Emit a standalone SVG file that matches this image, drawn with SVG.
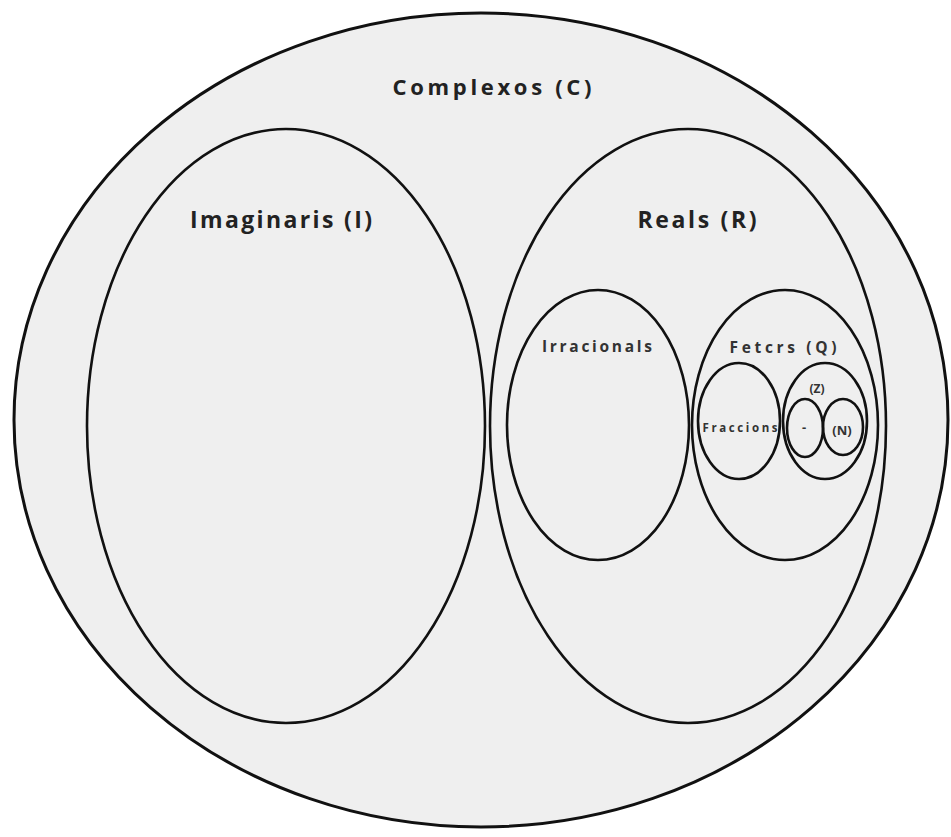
<svg xmlns="http://www.w3.org/2000/svg" width="951" height="837" viewBox="0 0 951 837">
<style>
.set{fill:none;stroke:#111;stroke-width:2.6}
.outer{fill:#efefef;stroke:#111;stroke-width:3}
.lbl{font-family:"Open Sans","DejaVu Sans",sans-serif;font-weight:bold;fill:#222;text-anchor:middle}
.sm{font-family:"Open Sans","DejaVu Sans",sans-serif;font-weight:bold;fill:#333;text-anchor:middle}
</style>
<rect width="951" height="837" fill="#fff"/>
<g id="complexos">
<ellipse class="outer" cx="481" cy="420" rx="467" ry="407"/>
<text class="lbl" x="492" y="95" font-size="22" textLength="199" lengthAdjust="spacing">Complexos (C)</text>
</g>
<g id="imaginaris">
<ellipse class="set" cx="286" cy="426" rx="199" ry="297"/>
<text class="lbl" x="281" y="228" font-size="23" textLength="182" lengthAdjust="spacing">Imaginaris (I)</text>
</g>
<g id="reals">
<ellipse class="set" cx="688" cy="426" rx="198" ry="297"/>
<text class="lbl" x="697" y="228" font-size="23" textLength="119" lengthAdjust="spacing">Reals (R)</text>
</g>
<g id="irracionals">
<ellipse class="set" cx="598" cy="425" rx="91" ry="135"/>
<text class="sm" x="597" y="352" font-size="15.5" textLength="110" lengthAdjust="spacing">Irracionals</text>
</g>
<g id="racionals">
<ellipse class="set" cx="785" cy="425" rx="93" ry="135"/>
<text class="sm" x="783" y="353" font-size="15.5" textLength="107" lengthAdjust="spacing">Fetcrs (Q)</text>
</g>
<g id="fraccions">
<ellipse class="set" cx="739" cy="421" rx="41" ry="58"/>
<text class="sm" x="740" y="432" font-size="11.5" textLength="75" lengthAdjust="spacing">Fraccions</text>
</g>
<g id="enters">
<ellipse class="set" cx="825" cy="421" rx="42" ry="58"/>
<text class="sm" x="817" y="393" font-size="12">(Z)</text>
</g>
<g id="negatius">
<ellipse class="set" cx="805" cy="428" rx="18" ry="29"/>
<text class="sm" x="804" y="432" font-size="13">-</text>
</g>
<g id="naturals">
<ellipse class="set" cx="843" cy="427" rx="20" ry="28"/>
<text class="sm" x="842" y="435" font-size="13">(N)</text>
</g>
<g id="connectors"></g>
</svg>
